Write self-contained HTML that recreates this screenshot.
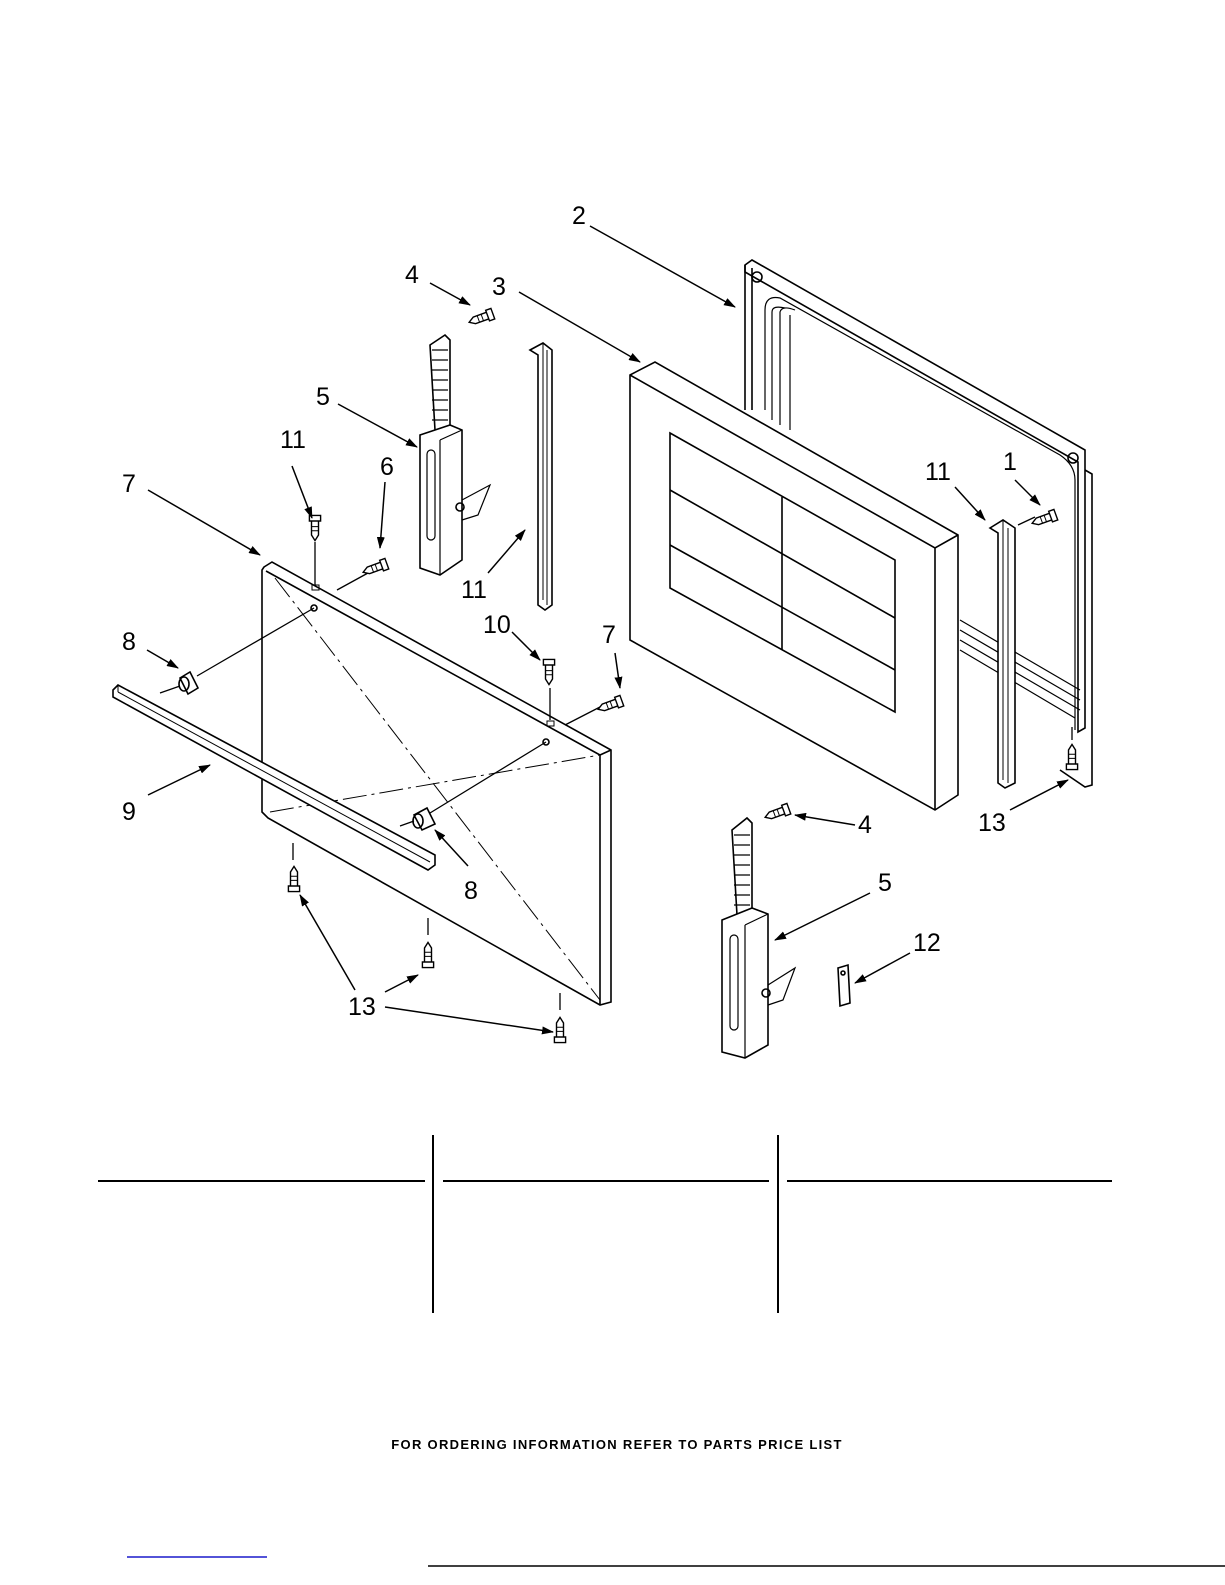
<!DOCTYPE html>
<html><head><meta charset="utf-8"><style>
html,body{margin:0;padding:0;background:#fff;}
svg{display:block;}
text{font-family:"Liberation Sans",Arial,sans-serif;fill:#000;}
</style></head><body>
<svg width="1225" height="1585" viewBox="0 0 1225 1585" xmlns="http://www.w3.org/2000/svg">
<defs>
<marker id="a" markerWidth="12" markerHeight="8" refX="11" refY="4" orient="auto" markerUnits="userSpaceOnUse">
<path d="M0,0 L12,4 L0,8 Z" fill="#000"/></marker>
<g id="scr"><g transform="scale(1.4)"><path d="M-4,-9 h8 v4 h-8 z M-2.5,-5 h5 v10 l-2.5,4 l-2.5,-4 z" fill="#fff" stroke="#000" stroke-width="1"/><path d="M-2.5,-1 h5 M-2.5,2 h5" stroke="#000" stroke-width="0.7"/></g></g>
</defs>
<g fill="none" stroke="#000" stroke-width="1.6">
<path d="M745,265 L752,260 L1085,450 L1085,728 L1078,732 L1078,462 L745,272 Z" fill="#fff"/>
<path d="M745,265 L745,410 M752,268 L752,410"/>
<path d="M1085,470 L1092,474 L1092,785 L1085,787 L1060,770"/>
<circle cx="757" cy="277" r="5"/><circle cx="1073" cy="458" r="5"/>
<path d="M765,410 L765,310 Q765,295 780,298 L1060,455 Q1075,465 1075,480 L1075,730" stroke-width="1.2"/>
<path d="M772,420 L772,312 Q772,305 785,308 M780,425 L780,312 Q782,305 795,310 M790,430 L790,315" stroke-width="1.2"/>
<path d="M960,620 L1080,690 M960,630 L1080,700 M960,640 L1080,710 M960,650 L1075,718" stroke-width="1.2"/>
<path d="M630,375 L655,362 L958,535 L958,795 L935,810 L630,640 Z" fill="#fff"/>
<path d="M630,375 L935,548 L958,535 M935,548 L935,810"/>
<path d="M670,433 L895,560 L895,712 L670,588 Z"/>
<path d="M782,497 L782,650 M670,490 L895,618 M670,545 L895,670"/>
<path d="M530,350 L543,343 L552,350 L552,605 L545,610 L538,605 L538,355 L530,350 Z" fill="#fff"/>
<path d="M543,343 L543,600 M547,350 L547,605" stroke-width="1"/>
<path d="M990,528 L1003,520 L1015,528 L1015,783 L1005,788 L998,783 L998,533 Z" fill="#fff"/>
<path d="M1003,520 L1003,780 M1008,528 L1008,783" stroke-width="1"/>
<path d="M430,345 L445,335 L450,340 L450,430 L435,430 Z" fill="#fff"/>
<path d="M432,350 h16 M432,360 h16 M432,370 h16 M432,380 h16 M432,390 h16 M432,400 h16 M432,410 h16 M432,420 h16" stroke-width="1.2"/>
<path d="M420,435 L450,425 L462,430 L462,560 L440,575 L420,568 Z" fill="#fff"/>
<path d="M440,440 L462,430 M440,440 L440,575" stroke-width="1.2"/>
<rect x="427" y="450" width="8" height="90" rx="4" stroke-width="1.2"/>
<path d="M462,500 L490,485 L478,515 L462,520" stroke-width="1.2"/>
<circle cx="460" cy="507" r="4"/>
<path d="M732,830 L747,818 L752,823 L752,915 L737,915 Z" fill="#fff"/>
<path d="M734,835 h16 M734,845 h16 M734,855 h16 M734,865 h16 M734,875 h16 M734,885 h16 M734,895 h16 M734,905 h16" stroke-width="1.2"/>
<path d="M722,920 L752,908 L768,914 L768,1045 L745,1058 L722,1052 Z" fill="#fff"/>
<path d="M745,925 L768,914 M745,925 L745,1058" stroke-width="1.2"/>
<rect x="730" y="935" width="8" height="95" rx="4" stroke-width="1.2"/>
<path d="M768,985 L795,968 L783,1000 L768,1005" stroke-width="1.2"/>
<circle cx="766" cy="993" r="4"/>
<path d="M264,567 L272,562 L611,750 L611,1002 L600,1005 L268,818 L262,812 L262,570 Z" fill="#fff"/>
<path d="M266,571 L600,755 L600,1004 M600,755 L611,750"/>
<path d="M275,578 L600,1000 M270,812 L600,755" stroke-width="1" stroke-dasharray="24,5,3,5"/>
<rect x="312" y="585" width="7" height="5" stroke-width="1"/><rect x="547" y="721" width="7" height="5" stroke-width="1"/>
<circle cx="314" cy="608" r="3"/><circle cx="546" cy="742" r="3"/>
<path d="M113,690 L118,685 L435,855 L435,865 L428,870 L113,697 Z" fill="#fff"/>
<path d="M118,692 L430,862 M118,685 L118,692" stroke-width="1"/>
<path d="M180,678 L190,672 L198,688 L188,694 Z" fill="#fff"/><ellipse cx="184" cy="684" rx="5" ry="7"/>
<path d="M414,815 L427,808 L435,824 L422,830 Z" fill="#fff"/><ellipse cx="418" cy="821" rx="5" ry="7"/>
<path d="M197,676 L314,608 M160,693 L180,686 M430,813 L546,742 M400,826 L414,821" stroke-width="1.3"/>
<path d="M315,542 L315,585 M550,688 L550,720 M337,590 L368,573 M565,725 L600,707 M293,843 L293,860 M428,918 L428,935 M560,993 L560,1010 M1072,727 L1072,740 M1018,525 L1035,517" stroke-width="1.3"/>
<path d="M838,968 L848,965 L850,1003 L840,1006 Z" fill="#fff"/><circle cx="843" cy="973" r="2"/>
</g>
<g>
<use href="#scr" transform="translate(481,318) rotate(70)"/>
<use href="#scr" transform="translate(315,528)"/>
<use href="#scr" transform="translate(375,568) rotate(70)"/>
<use href="#scr" transform="translate(549,672)"/>
<use href="#scr" transform="translate(610,705) rotate(70)"/>
<use href="#scr" transform="translate(1044,519) rotate(70)"/>
<use href="#scr" transform="translate(777,813) rotate(70)"/>
<use href="#scr" transform="translate(1072,757) rotate(180)"/>
<use href="#scr" transform="translate(294,879) rotate(180)"/>
<use href="#scr" transform="translate(428,955) rotate(180)"/>
<use href="#scr" transform="translate(560,1030) rotate(180)"/>
</g>
<g stroke="#000" stroke-width="1.5" fill="none" marker-end="url(#a)">
<line x1="590" y1="226" x2="735" y2="307"/>
<line x1="519" y1="292" x2="640" y2="362"/>
<line x1="430" y1="283" x2="470" y2="305"/>
<line x1="338" y1="404" x2="417" y2="447"/>
<line x1="292" y1="466" x2="312" y2="518"/>
<line x1="385" y1="482" x2="380" y2="548"/>
<line x1="148" y1="490" x2="260" y2="555"/>
<line x1="147" y1="650" x2="178" y2="668"/>
<line x1="148" y1="795" x2="210" y2="765"/>
<line x1="488" y1="573" x2="525" y2="530"/>
<line x1="512" y1="632" x2="540" y2="660"/>
<line x1="615" y1="653" x2="620" y2="688"/>
<line x1="468" y1="866" x2="435" y2="830"/>
<line x1="1015" y1="480" x2="1040" y2="505"/>
<line x1="955" y1="487" x2="985" y2="520"/>
<line x1="1010" y1="810" x2="1068" y2="780"/>
<line x1="855" y1="825" x2="795" y2="815"/>
<line x1="870" y1="893" x2="775" y2="940"/>
<line x1="910" y1="953" x2="855" y2="983"/>
<line x1="355" y1="990" x2="300" y2="895"/>
<line x1="385" y1="992" x2="418" y2="975"/>
<line x1="385" y1="1007" x2="553" y2="1032"/>
</g>
<g font-size="25">
<text x="572" y="224">2</text>
<text x="405" y="283">4</text>
<text x="492" y="295">3</text>
<text x="316" y="405">5</text>
<text x="280" y="448">11</text>
<text x="380" y="475">6</text>
<text x="122" y="492">7</text>
<text x="1003" y="470">1</text>
<text x="925" y="480">11</text>
<text x="461" y="598">11</text>
<text x="483" y="633">10</text>
<text x="602" y="643">7</text>
<text x="122" y="650">8</text>
<text x="122" y="820">9</text>
<text x="464" y="899">8</text>
<text x="858" y="833">4</text>
<text x="978" y="831">13</text>
<text x="878" y="891">5</text>
<text x="913" y="951">12</text>
<text x="348" y="1015">13</text>
</g>
<g stroke="#000" stroke-width="2">
<line x1="98" y1="1181" x2="425" y2="1181"/>
<line x1="443" y1="1181" x2="769" y2="1181"/>
<line x1="787" y1="1181" x2="1112" y2="1181"/>
<line x1="433" y1="1135" x2="433" y2="1313"/>
<line x1="778" y1="1135" x2="778" y2="1313"/>
</g>
<text x="617" y="1449" font-size="13" font-weight="bold" text-anchor="middle" letter-spacing="1.3">FOR ORDERING INFORMATION REFER TO PARTS PRICE LIST</text>
<line x1="127" y1="1557" x2="267" y2="1557" stroke="#1a1acc" stroke-width="1.5"/>
<line x1="428" y1="1566" x2="1225" y2="1566" stroke="#000" stroke-width="1.5"/>
</svg>
</body></html>
